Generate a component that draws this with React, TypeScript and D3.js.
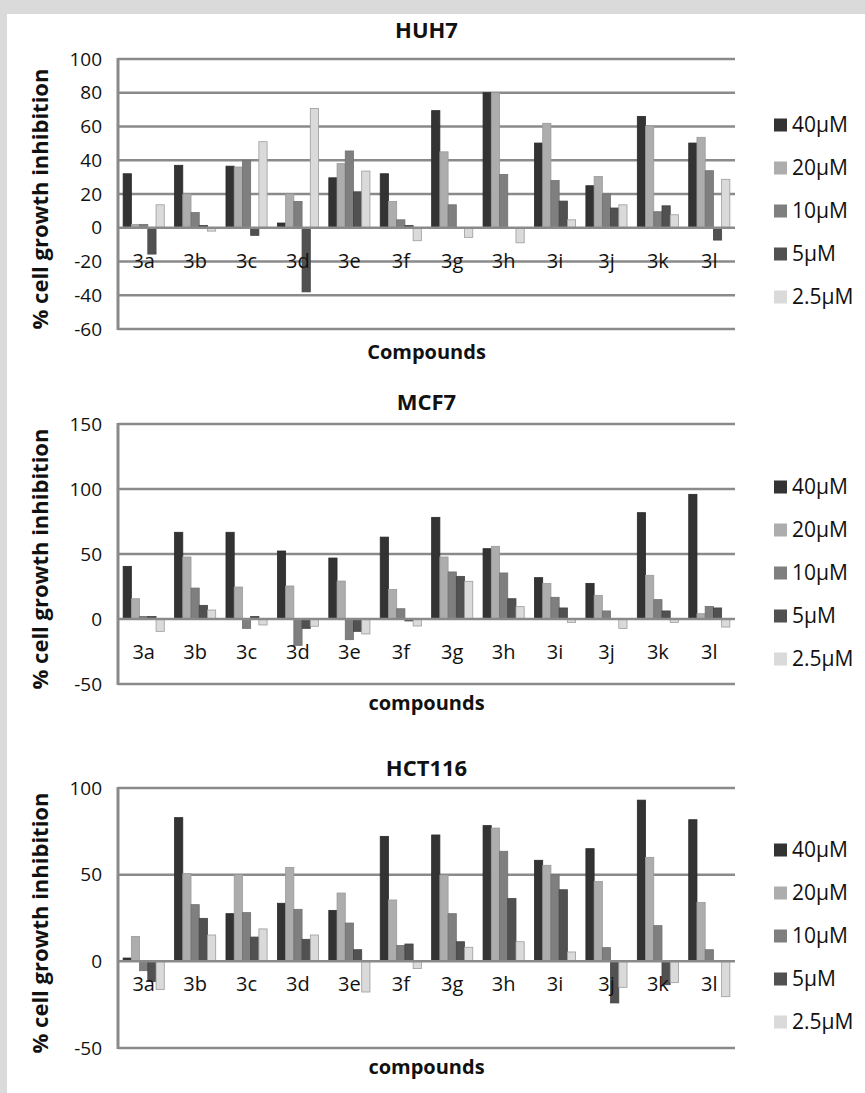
import React, { useEffect, useRef } from "react";
import * as d3 from "d3";

const compounds = ["3a", "3b", "3c", "3d", "3e", "3f", "3g", "3h", "3i", "3j", "3k", "3l"];
const doses = ["40µM", "20µM", "10µM", "5µM", "2.5µM"];
const doseColors = ["#333333", "#adadad", "#7f7f7f", "#515151", "#dadada"];
const doseStrokes = ["#2a2a2a", "#9a9a9a", "#707070", "#444444", "#9c9c9c"];

// HUH7
const huh7_40 = [32, 37, 36.5, 2.8, 29.6, 32, 69.4, 80, 50.2, 24.9, 66, 50.2];
const huh7_20 = [2, 20, 36, 20, 38, 15.6, 45, 80, 61.9, 30.4, 60.3, 53.6];
const huh7_10 = [2, 9, 40, 15.6, 45.5, 4.7, 13.6, 31.6, 28, 20, 9.5, 33.8];
const huh7_5 = [-15.6, 1.4, -4.5, -38, 21.3, 1.4, 0, 0, 15.8, 11.7, 13, -7.3];
const huh7_25 = [13.6, -2, 51, 70.7, 33.6, -7.7, -5.7, -8.9, 4.7, 13.6, 7.7, 28.7];
const huh7Ticks = [100, 80, 60, 40, 20, 0, -20, -40, -60];

// MCF7
const mcf7_40 = [40.5, 66.7, 66.7, 52.3, 46.9, 63, 78.2, 54.1, 31.8, 27.4, 81.8, 95.9];
const mcf7_20 = [15.6, 47.7, 24.6, 25.4, 29.2, 22.8, 47.7, 55.9, 27.4, 18.2, 33.6, 4.1];
const mcf7_10 = [2, 23.8, -7.2, -20.3, -15.9, 7.9, 36.2, 35.4, 16.7, 6.2, 14.9, 9.7];
const mcf7_5 = [2, 10.5, 2, -7.2, -9.5, -1.5, 32.8, 15.6, 8.5, 0, 6.2, 8.5];
const mcf7_25 = [-9.5, 6.9, -4.6, -5.6, -11.5, -5.4, 29, 9.5, -2.6, -7.2, -2.6, -6.2];
const mcf7Ticks = [150, 100, 50, 0, -50];

// HCT116
const hct_40 = [1.9, 82.9, 27.5, 33.5, 29.4, 72.1, 72.9, 78.3, 58.3, 65, 93, 81.7];
const hct_20 = [14.4, 50.6, 50, 54.2, 39.4, 35.4, 49.8, 76.9, 55.4, 46, 60, 34];
const hct_10 = [-5.4, 32.7, 28.1, 30, 22.1, 9.2, 27.5, 63.5, 50, 7.9, 20.6, 6.7];
const hct_5 = [-11.7, 24.8, 14, 12.7, 6.7, 10, 11.3, 36.2, 41.3, -24, -13.5, 0];
const hct_25 = [-16.3, 15.2, 18.7, 15.2, -17.7, -4.2, 8.1, 11.3, 5.4, -15, -12.3, -20.4];
const hctTicks = [100, 50, 0, -50];

const FONT = "'Open Sans', sans-serif";
const LEFT = 118;
const RIGHT = 735;

const panels = [
  {
    title: "HUH7", xTitle: "Compounds", series: [huh7_40, huh7_20, huh7_10, huh7_5, huh7_25],
    ticks: huh7Ticks, top: 59, bottom: 329, titleY: 38, labelGap: 33, xTitleY: 359, legendY: 125,
  },
  {
    title: "MCF7", xTitle: "compounds", series: [mcf7_40, mcf7_20, mcf7_10, mcf7_5, mcf7_25],
    ticks: mcf7Ticks, top: 424, bottom: 684, titleY: 410, labelGap: 33, xTitleY: 710, legendY: 487,
  },
  {
    title: "HCT116", xTitle: "compounds", series: [hct_40, hct_20, hct_10, hct_5, hct_25],
    ticks: hctTicks, top: 788, bottom: 1048, titleY: 776, labelGap: 23, xTitleY: 1074, legendY: 850,
  },
];

const App = () => {
  const svgRef = useRef(null);

  useEffect(() => {
    const svg = d3.select(svgRef.current);
    svg.selectAll("*").remove();

    // grey frame
    svg.append("rect").attr("width", 865).attr("height", 1093).attr("fill", "#ffffff");
    svg.append("rect").attr("width", 865).attr("height", 14).attr("fill", "#dadada");
    svg.append("rect").attr("width", 7).attr("height", 1093).attr("fill", "#dadada");

    const x0 = d3.scaleBand().domain(compounds).range([LEFT, RIGHT]).padding(0);
    const x1 = d3.scaleBand().domain(doses)
      .range([x0.bandwidth() * 0.1, x0.bandwidth() * 0.9]);

    panels.forEach((p) => {
      const g = svg.append("g");
      const y = d3.scaleLinear()
        .domain([d3.min(p.ticks), d3.max(p.ticks)])
        .range([p.bottom, p.top]);

      // gridlines
      g.selectAll("line.grid")
        .data(p.ticks.filter((t) => t !== 0))
        .join("line")
        .attr("x1", LEFT).attr("x2", RIGHT)
        .attr("y1", (d) => y(d)).attr("y2", (d) => y(d))
        .attr("stroke", "#8a8a8a").attr("stroke-width", 2.5);

      // bars
      p.series.forEach((vals, si) => {
        g.selectAll(null)
          .data(vals)
          .join("rect")
          .attr("x", (d, i) => x0(compounds[i]) + x1(doses[si]))
          .attr("y", (d) => y(Math.max(0, d)))
          .attr("width", x1.bandwidth())
          .attr("height", (d) => Math.abs(y(d) - y(0)))
          .attr("fill", doseColors[si])
          .attr("stroke", doseStrokes[si])
          .attr("stroke-width", 0.8);
      });

      // zero axis and left axis
      g.append("line")
        .attr("x1", LEFT).attr("x2", RIGHT)
        .attr("y1", y(0)).attr("y2", y(0))
        .attr("stroke", "#8a8a8a").attr("stroke-width", 2.5);
      g.append("line")
        .attr("x1", LEFT).attr("x2", LEFT)
        .attr("y1", p.top - 1).attr("y2", p.bottom + 1)
        .attr("stroke", "#8a8a8a").attr("stroke-width", 3);

      // y ticks
      g.selectAll("text.tick")
        .data(p.ticks)
        .join("text")
        .attr("x", 102)
        .attr("y", (d) => y(d))
        .attr("dy", "0.35em")
        .attr("text-anchor", "end")
        .attr("font-family", FONT)
        .attr("font-size", 19)
        .attr("fill", "#111")
        .text((d) => d);

      // category labels
      g.selectAll("text.cat")
        .data(compounds)
        .join("text")
        .attr("x", (d) => x0(d) + x0.bandwidth() / 2)
        .attr("y", y(0) + p.labelGap)
        .attr("dy", "0.35em")
        .attr("text-anchor", "middle")
        .attr("font-family", FONT)
        .attr("font-size", 20)
        .attr("fill", "#111")
        .text((d) => d);

      // titles
      g.append("text")
        .attr("x", (LEFT + RIGHT) / 2).attr("y", p.titleY)
        .attr("text-anchor", "middle")
        .attr("font-family", FONT).attr("font-weight", "bold").attr("font-size", 22)
        .attr("fill", "#111")
        .text(p.title);
      g.append("text")
        .attr("x", (LEFT + RIGHT) / 2).attr("y", p.xTitleY)
        .attr("text-anchor", "middle")
        .attr("font-family", FONT).attr("font-weight", "bold").attr("font-size", 20)
        .attr("fill", "#111")
        .text(p.xTitle);
      g.append("text")
        .attr("transform", `translate(48,${(p.top + p.bottom) / 2 + 5}) rotate(-90)`)
        .attr("text-anchor", "middle")
        .attr("font-family", FONT).attr("font-weight", "bold").attr("font-size", 22)
        .attr("fill", "#111")
        .text("% cell growth inhibition");

      // legend
      const lg = g.selectAll("g.legend")
        .data(doses)
        .join("g")
        .attr("transform", (d, i) => `translate(774,${p.legendY + i * 43})`);
      lg.append("rect")
        .attr("x", 0).attr("y", -6.5)
        .attr("width", 13).attr("height", 13)
        .attr("fill", (d, i) => doseColors[i]);
      lg.append("text")
        .attr("x", 18).attr("y", 0).attr("dy", "0.35em")
        .attr("font-family", FONT).attr("font-size", 21)
        .attr("fill", "#111")
        .text((d) => d);
    });
  }, []);

  return (
    <svg
      ref={svgRef}
      width={865}
      height={1093}
      style={{ position: "absolute", left: 0, top: 0 }}
    ></svg>
  );
};

export default App;
